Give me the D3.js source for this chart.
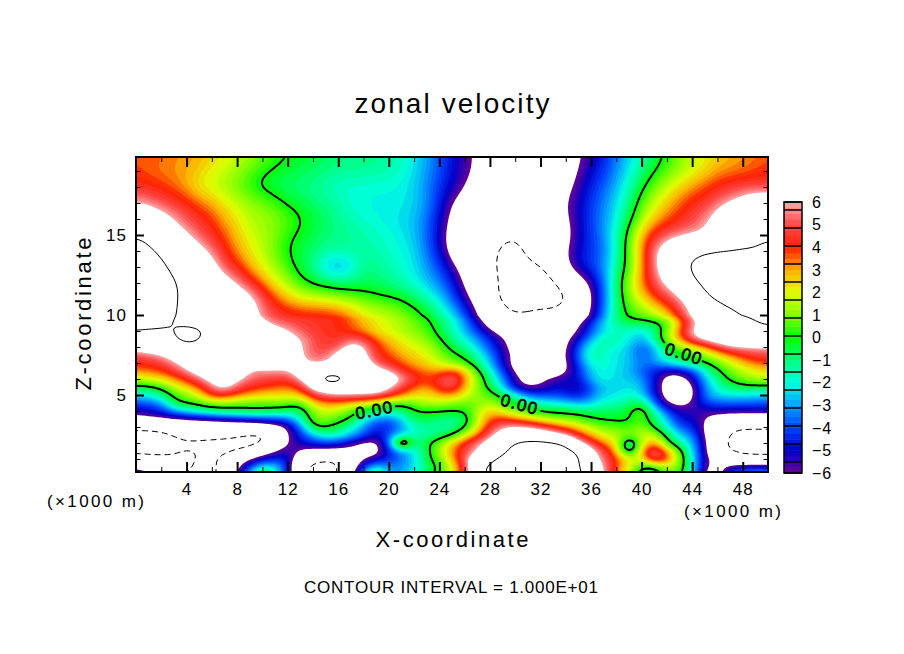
<!DOCTYPE html>
<html><head><meta charset="utf-8">
<style>html,body{margin:0;padding:0;background:#fff}svg{display:block}text{font-family:"Liberation Sans",sans-serif;fill:#000}</style>
<script src="https://cdn.jsdelivr.net/npm/d3@7/dist/d3.min.js"></script>
</head><body><svg id="c" width="904" height="654"></svg>
<script>
const xLevels = d3.range(0, 51);
const zLevels = [20,19,18,17,16,15,14,13,12,11,10,9.5,9,8.5,8,7.5,7,6.5,6,5.5,5,4.5,4,3.5,3,2.5,2,1.5,1,.5,0];
const xMajorTicks = [4,8,12,16,20,24,28,32,36,40,44,48];
const xMinorTicks = [2,6,10,14,18,22,26,30,34,38,42,46];
const zMajorTicks = [5,10,15];
const zMinorTicks = [1,2,3,4,6,7,8,9,11,12,13,14,16,17,18,19];
const legendTicks = [6,5,4,3,2,1,0,-1,-2,-3,-4,-5,-6];
const colorValues = [-6,-5,-4,-3,-2,-1,0,1,2,3,4,5,6];
const colorStops = ["#6a0094","#0000c8","#0040ff","#00a0ff","#00ffe0","#00ff80","#00ff00","#80ff00","#e0ff00","#ffb000","#ff2000","#ff4848","#ffa8a8"];
const contourLevels = [-10,0,10];
const zeroLabels = [{x:18.8,z:4.06,r:-11},{x:30.3,z:4.44,r:15},{x:43.3,z:7.6,r:17}];
const velocity = [
/*20*/[3.8,3.7,3.6,3.4,3.2,3,2.7,2.3,1.8,1.4,1,.5,.1,-.2,-.4,-.6,-.8,-.9,-1,-1.1,-1.3,-1.6,-2.2,-2.9,-3.8,-4.7,-5.6,-6.3,-7,-7,-7,-7,-7,-7,-7,-6.3,-5.4,-4.6,-3.4,-2.6,-1.7,-.7,.2,1,1.6,2.1,2.6,2.9,3.1,3.4,3.7],
/*19*/[3.7,3.5,3.3,3.1,3,2.7,2,1.7,1.2,.7,.2,-.2,-.5,-.6,-.8,-1,-1.2,-1.2,-1.2,-1.3,-1.4,-1.7,-2.3,-3,-3.9,-4.8,-5.6,-6.3,-7,-7,-7,-7,-7,-7,-7,-6,-4.9,-4.2,-3.2,-2.1,-1,0,.6,1.2,1.8,2.4,3,3.2,3.4,3.7,3.9],
/*18*/[4.5,4.2,4,3.6,2.9,2,1.7,1.3,.8,.2,-.5,-.7,-.9,-1,-1.2,-1.5,-1.8,-1.9,-1.9,-2,-2,-2.1,-2.5,-3.3,-4.2,-5,-6,-7,-7,-7,-7,-7,-7,-7,-6.7,-5.5,-4.5,-3.7,-2.7,-1.6,-.2,.8,1.7,2.5,3.2,3.8,4.3,4.7,4.8,4.8,4.7],
/*17*/[6.1,5.6,5,4.6,4.3,3.6,3,2.2,1.7,1.2,1.1,.5,-.2,-.5,-.9,-1.1,-1.4,-1.9,-2,-2.1,-2.1,-2.1,-2.4,-3.1,-4.5,-6.1,-7,-7,-7,-7,-7,-7,-7,-7,-6.1,-5,-4.2,-3.3,-2.3,-1,.6,1.8,2.8,3.6,4.3,4.6,5.3,5.9,7,8,8],
/*16*/[8,8,7,6.1,5,4.5,4,3,2.3,1.5,1.3,1.1,.8,.2,-.3,-.7,-1.1,-1.5,-1.8,-2,-2.2,-2.4,-2.7,-3.5,-4.8,-6.6,-7.5,-7.5,-7.5,-7.5,-7.5,-7.5,-7.5,-7.5,-6.2,-5.2,-4,-3.2,-2,-.5,1.2,2.7,3.5,4.2,4.8,5.8,7,9,9,9,9],
/*15*/[9.5,9,8,7,6.3,5.1,4.4,3.7,2.7,1.9,1.4,1,.2,-.2,-.6,-.9,-1.1,-1.2,-1.4,-1.6,-1.9,-2.1,-2.6,-3.6,-5.1,-7,-8,-8,-8,-9,-9.5,-8,-8,-8,-6.7,-5.3,-4.2,-3.1,-1.5,.5,3,4.5,5.2,5.5,5.7,6,7,8,9,9,9.4],
/*14*/[12,10.5,9.5,8.5,7.7,6.8,5.6,4.3,3.2,2.3,1.6,.8,-.1,-.5,-.8,-1.1,-1.1,-1.1,-1.3,-1.5,-1.8,-2,-2.3,-3.5,-4.8,-7,-8.5,-8.5,-9,-11,-12,-9,-8.5,-8,-6,-4.9,-4.3,-3.7,-1.7,.8,3.2,6,7.5,9,9.7,9.7,9.7,9.7,9.7,9.9,11],
/*13*/[13,12,10.5,9.5,8.7,8,7,4.9,4.2,3,1.9,1.3,.4,-.5,-1.2,-3,-3.6,-2.8,-1,-1.1,-1.4,-1.8,-2.2,-3,-4,-5.3,-7,-8.5,-9,-11,-11,-11,-10.3,-9,-6,-4.8,-4,-3,-1.3,.3,3,5.6,8,9.7,10.3,12,13,13,13,13,13],
/*12*/[13,12.5,11,10.3,9.5,8.8,8,7.2,6,4.6,3.5,2,1.4,.2,-.3,-.5,-.7,-.8,-.7,-.8,-1.2,-1.5,-2,-2.7,-3.3,-4.5,-6.2,-8,-9,-10.5,-11,-11,-11,-10.5,-9,-7,-6,-3.6,-.7,1.6,3.6,5.1,6.5,8,9.7,10.5,12,13,13,12.5,12],
/*11*/[12,11.5,11,10.2,9.5,9,8.5,8,7.5,7,5.3,4,2.8,2.2,1.9,1.7,1.3,1,.6,.3,.2,0,-.6,-1.3,-2.3,-3.7,-5.5,-7,-9,-10.7,-11.5,-11.5,-11.5,-11.5,-10.5,-9,-6.2,-3.6,-1,1,2.2,3.8,4.6,5.7,7,9.6,10.2,11,12,12,12],
/*10*/[11,10.7,10.5,10.2,9.5,9,8.7,8.4,8,7,5.5,4.8,4.6,4.5,4.5,4.5,4.3,3.5,2.4,2,1.7,1.2,.6,0,-1,-2,-3.5,-6,-8,-9,-9.8,-9.5,-9,-9,-9,-8,-6,-3.3,-.8,.3,.6,1.2,2.5,4.5,6.5,7.5,8.5,9,9.7,10.2,11],
/*9.5*/[10.5,10.5,10.4,9.9,9.3,9,8.8,8.6,8.3,7.8,6.6,5.5,5,4.7,4.5,4.4,4.2,3.6,3,2.3,1.8,1.4,.8,.3,-.5,-1.6,-3,-5,-7,-8.5,-8.5,-8.5,-8.5,-8,-7.5,-6.5,-4,-2.3,-1,-.5,-.4,-.3,0,2.5,5.5,7,8,9,9.5,9.9,10.2],
/*9*/[9.9,9.8,9.8,9.9,11,10.6,9,8.5,8.2,8,7.5,7,6.3,5.2,4.6,4.4,4.2,3.8,3.1,2.3,1.9,1.5,1.1,.6,-.4,-1.5,-2.7,-4.2,-5.7,-7,-7.5,-7.5,-7.5,-7.5,-7.2,-6,-4,-2.4,-1.8,-1.7,-2.6,-1.2,.8,3.8,6.5,7.5,8,8.5,9,9.3,9.6],
/*8.5*/[9.7,9.5,9.3,9.7,10.8,10.3,8.7,8,7.7,7.5,7.2,7,6.7,6.2,5,4.5,4.3,5.5,5,3.5,2.7,2,1.5,1,.2,-1,-2,-3,-4.5,-5.8,-7,-7,-7,-7,-6.6,-5,-2.8,-1.1,-1.2,-2,-3.2,-1,1.3,3.2,5.6,7,7.5,8,8.5,8.5,8.5],
/*8*/[7,7.5,8,9,9.5,9.2,8.5,8,7.5,7.3,7,7,6.8,6.4,5,4.6,5,7,6.3,4.2,3.2,2.5,2,1.6,.7,-.4,-1.2,-2.5,-4,-5.5,-7,-7,-7,-7,-6.7,-3.8,-1.5,-1.6,-2,-2.4,-4,-3,0,1.2,2,3,4.9,6,6.1,6.1,6],
/*7.5*/[5,5.5,5.9,7,8,8.3,8.3,8,7.5,7.2,7,6.8,6.7,6.5,5,5.2,6.8,8,6.7,4.5,3.8,3,2.5,2,1.2,.3,-.1,-1.5,-3,-5.2,-6.5,-7,-7,-7,-6.3,-3.5,-1,-1.7,-2.3,-2.5,-4.2,-3,-1.2,-.3,.4,1,2.2,3.3,4.2,4.8,5],
/*7*/[4.2,4.3,4.8,5.8,7,8,8.2,8,7.7,7.5,7.3,7.2,7,6.6,5.7,5.9,7,8,7.5,5,4.3,3.6,3,2.5,1.8,.8,.3,-1,-2.5,-5,-7,-7.5,-7.5,-7.3,-6.5,-4,-1.5,-1.8,-2.2,-2.5,-3.5,-3.2,-2,-1.2,-.7,0,.8,1.7,2.8,3.5,3.8],
/*6.5*/[3.3,3.5,3.9,4.6,6,7,8,8,8,5.7,5.8,6,5.8,7.5,8,8.3,8.5,8.5,8.7,7,6.3,4.5,3.7,3.3,3,4,3,.3,-1.7,-4,-6.5,-7.5,-7.5,-7.5,-6.4,-4.5,-2.5,-1.8,-2.3,-2.7,-3.8,-4.7,-5.5,-5.4,-4.2,-2,-.2,.8,1.5,2.2,2.5],
/*6*/[1.7,1.9,2.4,3.2,4.2,5.5,7,7.5,6.5,5.3,5,4.7,4.5,6.3,8,12.5,12,9,8.5,8,7.5,6.5,4.7,4,4.5,6.5,3.2,1.3,-1,-3,-5.5,-7,-6.2,-5.5,-5,-5,-2.5,-1.8,-2.5,-2.5,-3,-4.5,-7,-7,-5.5,-2.5,-1,.4,1,1.5,1.5],
/*5.5*/[-.4,-.3,.3,1.7,2.6,3.7,5.5,7,5.2,4.4,4,3.7,3.3,4.2,7,8,8,8,8,8,6.5,4.7,3.7,3,4.6,5.2,3,1,-.4,-2.3,-5.7,-6.2,-6.1,-5,-5,-5.5,-4,-2.4,-2.5,-2.2,-2.5,-5,-7,-8,-6.5,-3.2,-1.7,-.8,-.3,-.3,-.2],
/*5*/[-2.3,-1.8,-1.2,.4,1,2,4.5,4.6,3.5,3,2.5,2.5,2.5,2.6,4.7,5.5,6,6,6,6,4.8,3.7,2.5,2,3,3.5,2,1.2,.7,-.3,-1.5,-3.7,-4,-4,-4.5,-5,-3.5,-2.3,-2.4,-1.6,-2.3,-4.5,-7,-8,-6.6,-3.2,-2.3,-2.1,-2.2,-2.4,-2.5],
/*4.5*/[-4,-3.7,-3.2,0,.2,.5,1,1,.7,.5,.6,.8,.8,.1,2.6,3.3,3.3,2.8,2.3,1.5,.4,.1,.8,1.8,1.5,1,.7,.7,1.5,.5,-.3,-.9,-1.7,-2,-2.2,-3,-2.8,-1.6,-1.7,-1,-.2,-3.5,-6.3,-6.5,-6,-4,-3.7,-3.7,-3.7,-3.7,-3.8],
/*4*/[-5.5,-5,-4.5,-3,-2,-1.3,-.7,-.3,-.2,.1,0,-.3,-.7,-1,1,2,1.5,.5,-.5,-.8,-1,-.9,-.1,-.1,0,0,0,1.5,3,1.7,1,.5,-.1,-.3,-.3,-.4,-.7,-.6,-.7,-.3,1.5,-1.5,-4,-5.5,-5.2,-5.7,-5.2,-5.3,-5.3,-5.3,-5.4],
/*3.5*/[-6.5,-6.3,-6.2,-6,-5.9,-5.5,-5.3,-5,-4.7,-4.5,-4.2,-4,-3.6,-1.7,1.2,1,.6,0,-1.7,-3.3,-3.8,-2.7,-.2,-.5,-1,-1.3,-1,1.5,3.7,4.3,3.2,2.4,1.7,1.2,.9,.6,0,-.2,-.2,-.3,.7,-.6,-2.5,-5,-5,-6,-7,-7.5,-7.5,-7.5,-7.5],
/*3*/[-9.5,-9.5,-9.2,-9,-8.5,-8.5,-8.3,-8.2,-8,-8,-7.5,-7,-6.2,-3.5,.2,.2,-.5,-1.6,-3.2,-4.6,-4.7,-3,-1.7,-1.3,-1.4,-1.5,-.3,2,4.7,6,6.5,6.3,5.3,4.2,3.3,2.5,1.5,.8,.6,.3,1.4,-.3,-1.8,-4,-4.2,-6.3,-8,-9.5,-9.8,-9.8,-9.8],
/*2.5*/[-11,-11,-10.7,-10,-9.3,-9.3,-9.3,-9.4,-9.8,-10.4,-10.6,-8.5,-6,-4.5,-2.5,-1.3,-1.5,-2.6,-3.5,-5.5,-3.5,-3,-1.8,-1.3,-1.2,-.2,1.4,3.4,5.5,7,8,8,8,7,6,4.2,3,1.6,1.8,1,1.8,2,-.4,-2.5,-3.2,-6.2,-8.5,-10.3,-11,-11,-11],
/*2*/[-10.5,-10.5,-10.5,-10.5,-10.4,-10.5,-10.6,-10.7,-10.8,-10.8,-10.6,-8,-6,-5,-4.5,-4,-4.3,-5.3,-6.5,-6.5,-4.3,6,-1.5,-.3,1.2,2.6,4.6,5.8,7,9,10.5,11,11,10.7,10.2,6.5,5,3.2,2.5,-3,1.5,3.8,.1,-1.3,-2.5,-5.5,-9,-10.5,-11,-11,-11],
/*1.5*/[-10.3,-10.5,-10.5,-10.3,-9.8,-10,-10.5,-10.6,-10.1,-9.5,-7,-6,-5,-6.2,-6.5,-6.6,-6.7,-7,-7.3,-7,-4.5,-3.5,-2.5,-.3,1.2,3.3,4.7,5.8,8,9.8,10.5,11,11,11,10.7,10.2,6.5,5,3.3,-3,3.3,6.5,3,.8,-2.3,-5.5,-9,-10.2,-10.5,-10.5,-10.5],
/*1*/[-9.6,-9.7,-9.7,-9.7,-9.5,-10.2,-10.5,-9.5,-7.5,-5.8,-5,-4.5,-4.5,-7.5,-9.5,-10.2,-9.8,-8,-6,-5.5,-4.5,-3.3,-2.5,-.2,.7,3,5.5,8,9.8,10.5,11,11,11,11,11,10.7,7.5,5.2,4,2.5,1.8,6.2,4.5,1,-1.8,-5.5,-7,-8.5,-9.5,-9.8,-9.8],
/*.5*/[-5.9,-6.2,-7.5,-9,-9.5,-10.5,-10.8,-9,-6.5,-4,-2,-2,-4,-10,-10.8,-10.8,-10.5,-7.5,-4.5,-1.5,-3.5,-3.2,-2.5,-1,.2,1.5,4.5,9.5,10.5,11,11,11,11,11,11,10.6,8,6,3.7,2,-.2,-.5,1.5,1,-1.5,-6,-7,-5,-4.3,-4,-4],
/*0*/[-5,-5.5,-7.5,-9.5,-10.5,-10.5,-10.5,-9.5,-5,-3,2.5,-1.5,-5,-8,-10.5,-10.5,-10.5,-7,-2,.8,-3,-3,-2,-.5,.5,2.5,4.5,8.5,11,11,11,11,11,11,11,11,8.5,6.5,3,2,-1.5,-1.8,1,.5,-2,-6.5,-8,-3.5,-3,-3,-3]
];
velocity.forEach((r,i)=>{if(r.length!==xLevels.length)throw new Error("row "+i+" has "+r.length)});
if(velocity.length!==zLevels.length)throw new Error("rows "+velocity.length);

const W=904,H=654,L=136,R=768,T=157,B=472;
const x=d3.scaleLinear().domain([0,50]).range([L,R]);
const y=d3.scaleLinear().domain([5,15]).range([395,235]);
const color=d3.scaleLinear().domain(colorValues).range(colorStops).clamp(true);
const svg=d3.select("#c");

// Render field: the read grid, resampled finer and lightly smoothed so contours are not faceted.
const K=4, nx=(xLevels.length-1)*K+1, nz=(zLevels.length-1)*K+1;
const field=new Float64Array(nx*nz);
for(let j=0;j<nz;j++){
  const rj=Math.min(zLevels.length-2,Math.floor(j/K)), fj=j/K-rj;
  for(let i=0;i<nx;i++){
    const ri=Math.min(xLevels.length-2,Math.floor(i/K)), fi=i/K-ri;
    field[j*nx+i]=(1-fj)*((1-fi)*velocity[rj][ri]+fi*velocity[rj][ri+1])+fj*((1-fi)*velocity[rj+1][ri]+fi*velocity[rj+1][ri+1]);
  }
}
d3.blur2({data:field,width:nx,height:nz},1.5);
const idxZ=d3.scaleLinear().domain(zLevels.map((d,i)=>i)).range(zLevels).clamp(true);
const toX=px=>x(Math.max(0,Math.min(50,(px-.5)/K)));
const toY=py=>y(idxZ((py-.5)/K));
const path=d3.geoPath(d3.geoTransform({point(px,py){this.stream.point(toX(px),toY(py));}}));

const contours=d3.contours().size([nx,nz]).smooth(true);
const step=.25;
const bandStarts=d3.range(-6,6,step);
const plot=svg.append("svg").attr("x",L).attr("y",T).attr("width",R-L).attr("height",B-T).attr("viewBox",`${L} ${T} ${R-L} ${B-T}`);
plot.selectAll("path.band").data(bandStarts).join("path").attr("class","band")
 .attr("d",t=>path(contours.contour(field,t))).attr("fill",t=>color(t+step/2));
plot.append("path").attr("d",path(contours.contour(field,6))).attr("fill","#fff");
const lines=plot.append("g").attr("fill","none").attr("stroke","#000");
const inLabel=p=>zeroLabels.some(d=>{
  const a=-d.r*Math.PI/180,dx=p[0]-x(d.x),dy=p[1]-y(d.z);
  const u=dx*Math.cos(a)-dy*Math.sin(a),v=dx*Math.sin(a)+dy*Math.cos(a);
  return Math.abs(u)<20&&Math.abs(v)<12;
});
const gapLine=d3.line().defined(p=>!inLabel(p));
contourLevels.forEach(lv=>{
  if(lv===0){
    contours.contour(field,0).coordinates.flat().forEach(ring=>{
      lines.append("path").attr("d",gapLine(ring.map(c=>[toX(c[0]),toY(c[1])]))).attr("stroke-width",2);
    });
  } else {
    const p=lines.append("path").attr("d",path(contours.contour(field,lv))).attr("stroke-width",1);
    if(lv<0)p.attr("stroke-dasharray","6,4");
  }
});
svg.append("g").selectAll("text").data(zeroLabels).join("text").text("0.00")
 .attr("transform",d=>`translate(${x(d.x)},${y(d.z)}) rotate(${d.r})`)
 .attr("text-anchor","middle").attr("dy","0.36em").attr("font-size",17).attr("stroke","#000").attr("stroke-width",.7)
 .attr("textLength",37);

function axis(gen,tx,ty,vals,size,sw,labels,pad){
  const a=gen.tickValues(vals).tickSize(-size).tickPadding(pad||3);
  if(!labels)a.tickFormat("");
  const g=svg.append("g").attr("transform",`translate(${tx},${ty})`).call(a);
  g.select(".domain").remove();
  g.selectAll("line").attr("stroke","#000").attr("stroke-width",sw);
  g.selectAll("text").attr("font-size",17).attr("letter-spacing",1).style("font-family",'"Liberation Sans",sans-serif');
}
axis(d3.axisBottom(x),0,B,xMajorTicks,10,2,true,11);
axis(d3.axisBottom(x),0,B,xMinorTicks,5,1,false);
axis(d3.axisTop(x),0,T,xMajorTicks,10,2,false);
axis(d3.axisTop(x),0,T,xMinorTicks,5,1,false);
axis(d3.axisLeft(y),L,0,zMajorTicks,8,2,true,9);
axis(d3.axisLeft(y),L,0,zMinorTicks,4.5,1,false);
axis(d3.axisRight(y),R,0,zMajorTicks,8,2,false);
axis(d3.axisRight(y),R,0,zMinorTicks,4.5,1,false);
svg.append("rect").attr("x",L).attr("y",T).attr("width",R-L).attr("height",B-T).attr("fill","none").attr("stroke","#000").attr("stroke-width",2);

const lg=d3.scaleLinear().domain([-6,6]).range([473,202]);
const LX=784,LW=18;
svg.append("g").selectAll("rect").data(bandStarts).join("rect").attr("x",LX).attr("width",LW)
 .attr("y",t=>lg(t+step)).attr("height",t=>lg(t)-lg(t+step)+.5).attr("fill",t=>color(t+step/2));
const legendEdges=[202,210,228,246,264,282,300,318,336,354,372,390,408,426,444,462,473];
svg.append("g").selectAll("line").data(legendEdges).join("line").attr("x1",LX).attr("x2",LX+LW).attr("y1",d=>d).attr("y2",d=>d).attr("stroke","#000").attr("stroke-width",1.5);
svg.append("rect").attr("x",LX).attr("y",202).attr("width",LW).attr("height",271).attr("fill","none").attr("stroke","#000").attr("stroke-width",1.5);
svg.append("g").selectAll("text").data(legendTicks).join("text").attr("x",812).attr("y",d=>lg(d)).attr("dy",".36em").attr("font-size",16).attr("letter-spacing",1)
 .text(d=>d<0?"\u2212"+(-d):d);

function label(s,cx,cy,fs,w,rot){
  return svg.append("text").text(s).attr("text-anchor","middle").attr("font-size",fs).attr("textLength",w)
   .attr("dy",".36em").attr("transform",`translate(${cx},${cy})`+(rot?` rotate(${rot})`:""));
}
label("zonal velocity",452,103,28,195);
label("X-coordinate",452,539,22,153);
label("Z-coordinate",83,314,22,153,-90);
label("CONTOUR INTERVAL = 1.000E+01",451,587,17,294);
label("(\u00d71000 m)",95.5,501,17,97);
label("(\u00d71000 m)",732.5,511,17,97);
</script></body></html>
